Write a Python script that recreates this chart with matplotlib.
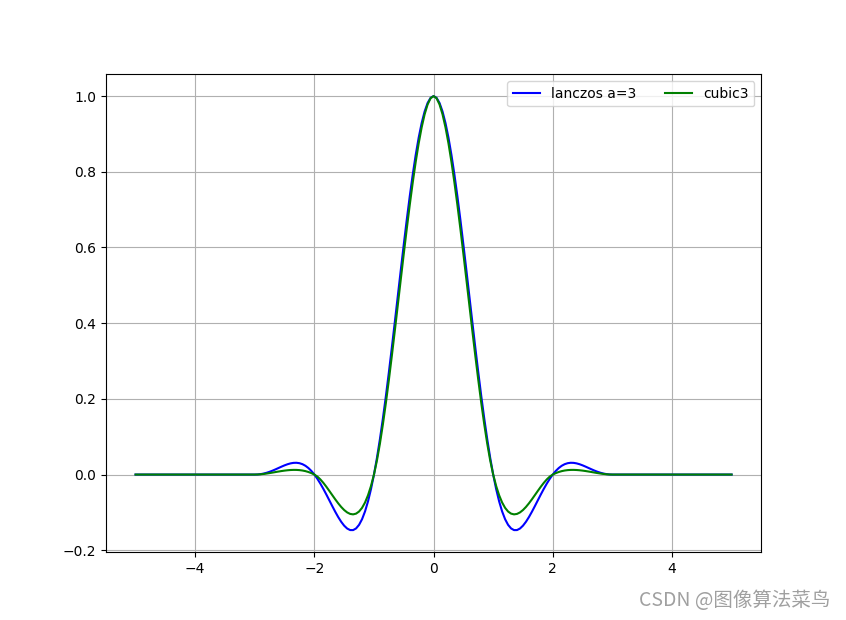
import numpy as np
import matplotlib
matplotlib.use("Agg")
import matplotlib.pyplot as plt

# Sample positions (non-negative half; kernels are symmetric)
x_half = [0.00, 0.05, 0.10, 0.15, 0.20, 0.25, 0.30, 0.35, 0.40, 0.45,
          0.50, 0.55, 0.60, 0.65, 0.70, 0.75, 0.80, 0.85, 0.90, 0.95,
          1.00, 1.05, 1.10, 1.15, 1.20, 1.25, 1.30, 1.35, 1.40, 1.45,
          1.50, 1.55, 1.60, 1.65, 1.70, 1.75, 1.80, 1.85, 1.90, 1.95,
          2.00, 2.05, 2.10, 2.15, 2.20, 2.25, 2.30, 2.35, 2.40, 2.45,
          2.50, 2.55, 2.60, 2.65, 2.70, 2.75, 2.80, 2.85, 2.90, 2.95,
          3.00, 4.00, 5.00]

lanczos_half = [1.0, 0.99543, 0.98184, 0.95944, 0.92868, 0.89007, 0.84434, 0.79231, 0.73489, 0.67309,
                0.60793, 0.54053, 0.47200, 0.40341, 0.33581, 0.27019, 0.20746, 0.14843, 0.09382, 0.04419,
                0.0, -0.03843, -0.07092, -0.09741, -0.11800, -0.13287, -0.14233, -0.14678, -0.14668, -0.14260,
                -0.13509, -0.12479, -0.11231, -0.09826, -0.08323, -0.06779, -0.05244, -0.03764, -0.02377, -0.01114,
                0.0, 0.00949, 0.01723, 0.02320, 0.02743, 0.03002, 0.03111, 0.03086, 0.02950, 0.02724,
                0.02432, 0.02096, 0.01739, 0.01382, 0.01042, 0.00736, 0.00474, 0.00266, 0.00117, 0.00029,
                0.0, 0.0, 0.0]

cubic3_half = [1.0, 0.99433, 0.97800, 0.95200, 0.91733, 0.87500, 0.82600, 0.77133, 0.71200, 0.64900,
               0.58333, 0.51600, 0.44800, 0.38033, 0.31400, 0.25000, 0.18933, 0.13300, 0.08200, 0.03733,
               0.0, -0.03028, -0.05475, -0.07384, -0.08800, -0.09766, -0.10325, -0.10522, -0.10400, -0.10003,
               -0.09375, -0.08559, -0.07600, -0.06541, -0.05425, -0.04297, -0.03200, -0.02178, -0.01275, -0.00534,
               0.0, 0.00376, 0.00675, 0.00903, 0.01067, 0.01172, 0.01225, 0.01232, 0.01200, 0.01134,
               0.01042, 0.00928, 0.00800, 0.00664, 0.00525, 0.00391, 0.00267, 0.00159, 0.00075, 0.00020,
               0.0, 0.0, 0.0]

labels = ["lanczos a=3", "cubic3"]
colors = ["blue", "green"]

xh = np.array(x_half)
x = np.concatenate([-xh[::-1], xh[1:]])
lz = np.array(lanczos_half)
cb = np.array(cubic3_half)
lanczos = np.concatenate([lz[::-1], lz[1:]])
cubic3 = np.concatenate([cb[::-1], cb[1:]])

fig, ax = plt.subplots(figsize=(8.46, 6.2), dpi=100)
ax.plot(x, lanczos, color=colors[0], label=labels[0], linewidth=1.5)
ax.plot(x, cubic3, color=colors[1], label=labels[1], linewidth=1.5)
ax.grid(True)
ax.legend(loc="upper right", ncol=2)

fig.text(0.982, 0.031, "CSDN @图像算法菜鸟", ha="right", va="center",
         fontsize=14, color="#a0a0a0",
         family=["Noto Sans CJK SC", "DejaVu Sans"])

fig.savefig("out.png", dpi=100)
